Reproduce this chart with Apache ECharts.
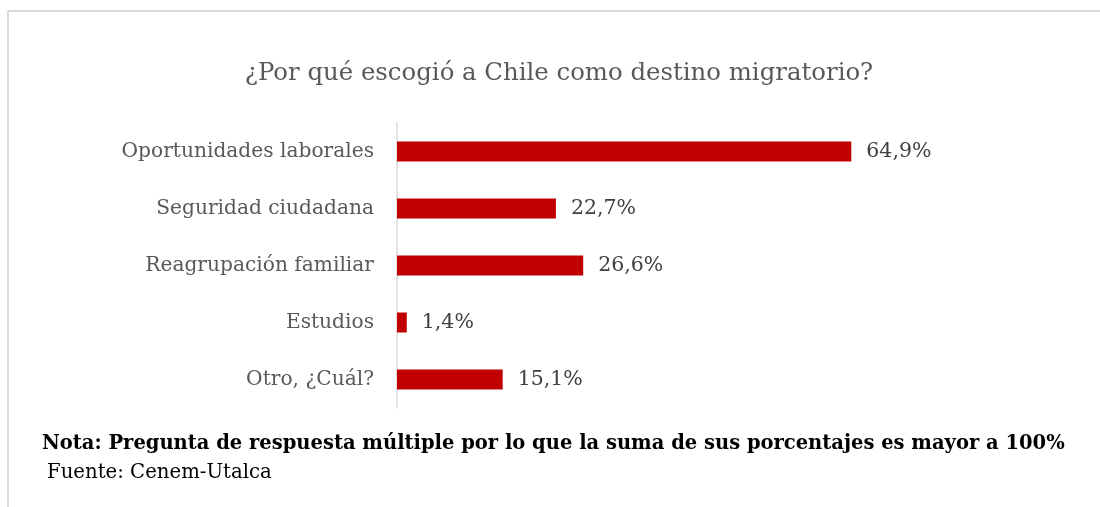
<!DOCTYPE html>
<html><head><meta charset="utf-8">
<script src="https://cdn.jsdelivr.net/npm/echarts@6/dist/echarts.min.js"></script>
<style>html,body{margin:0;padding:0;background:#fff}#c{width:1100px;height:507px}</style>
</head><body><div id="c"></div>
<script>
const categories = ['Oportunidades laborales','Seguridad ciudadana','Reagrupación familiar','Estudios','Otro, ¿Cuál?'];
const values = [64.9, 22.7, 26.6, 1.4, 15.1];
const titleText = '¿Por qué escogió a Chile como destino migratorio?';
const noteText = 'Nota: Pregunta de respuesta múltiple por lo que la suma de sus porcentajes es mayor a 100%';
const sourceText = 'Fuente: Cenem-Utalca';
const FONT = 'DejaVu Serif';

const chart = echarts.init(document.getElementById('c'), null, {renderer:'canvas'});
chart.setOption({
  animation:false,
  backgroundColor:'#fff',
  title:{text:titleText,left:554,top:57,textAlign:'center',
    textStyle:{fontFamily:FONT,fontSize:24.4,fontWeight:'normal',color:'#595959'}},
  grid:{left:397,top:123,width:700,height:285,containLabel:false},
  xAxis:{type:'value',min:0,max:100,show:false},
  yAxis:{type:'category',data:categories,inverse:true,
    axisLine:{show:true,lineStyle:{color:'#d9d9d9',width:1.5}},
    axisTick:{show:false},
    axisLabel:{fontFamily:FONT,fontSize:20.2,color:'#595959',margin:23}},
  series:[{type:'bar',data:values,barWidth:20,itemStyle:{color:'#c00000'},
    label:{show:true,position:'right',distance:15,fontFamily:FONT,fontSize:20.5,color:'#404040',
      formatter:p=>p.value.toFixed(1).replace('.',',')+'%'}}],
  graphic:[
    {type:'line',shape:{x1:8,y1:11,x2:1100,y2:11},style:{stroke:'#d9d9d9',lineWidth:2}},
    {type:'line',shape:{x1:8,y1:11,x2:8,y2:507},style:{stroke:'#d9d9d9',lineWidth:2}},
    {type:'text',x:42,y:444,style:{text:noteText,fontFamily:FONT,fontSize:19.5,fontWeight:'bold',fill:'#000',verticalAlign:'middle'}},
    {type:'text',x:47,y:473,style:{text:sourceText,fontFamily:FONT,fontSize:19.7,fill:'#000',verticalAlign:'middle'}}
  ]
});
</script></body></html>
